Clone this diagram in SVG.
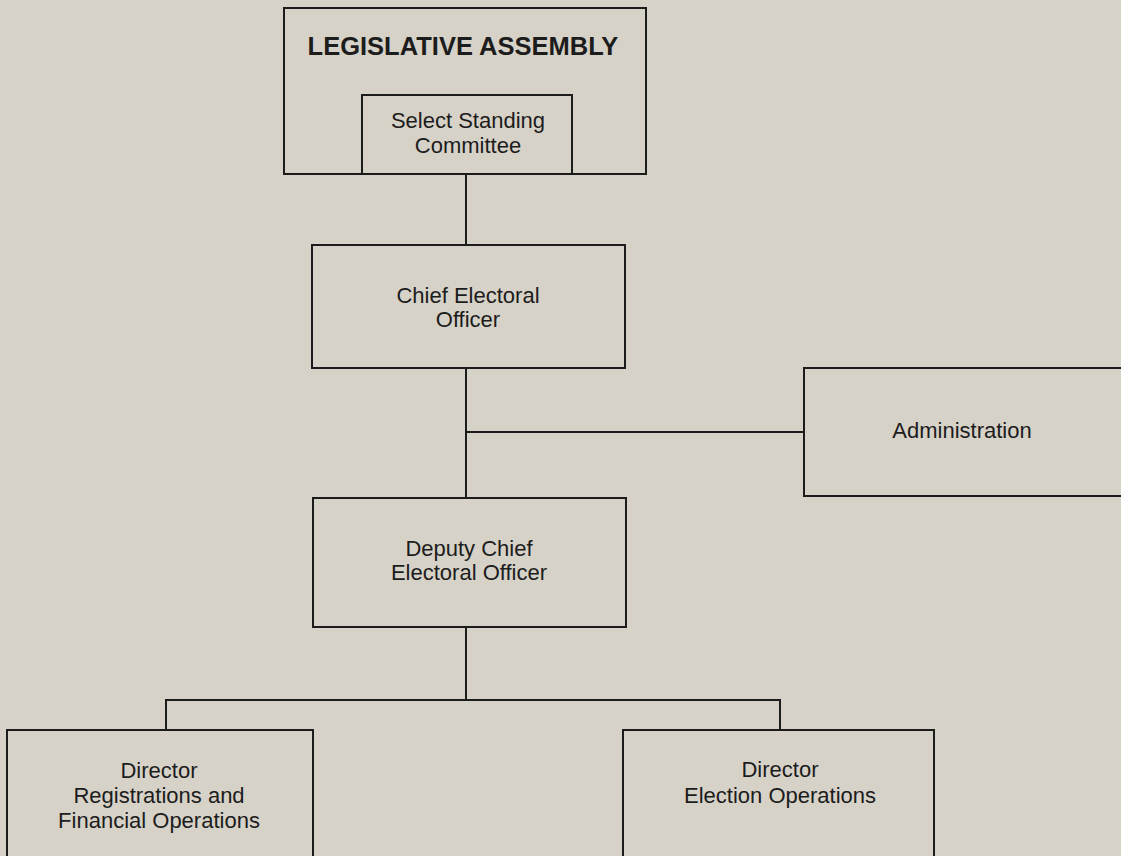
<svg xmlns="http://www.w3.org/2000/svg" width="1121" height="856" viewBox="0 0 1121 856">
<style>
.bg{fill:#d7d2c8}
.box{fill:none;stroke:#1c1c1c;stroke-width:2}
.ln{fill:none;stroke:#1c1c1c;stroke-width:2}
text{font-family:"Liberation Sans",Arial,sans-serif;font-size:22px;fill:#1c1c1c;text-anchor:middle}
.title{font-size:25.5px;font-weight:bold}
</style>
<rect class="bg" x="0" y="0" width="1121" height="856"/>
<g id="connectors">
<line class="ln" x1="466" y1="174" x2="466" y2="245"/>
<line class="ln" x1="466" y1="368" x2="466" y2="498"/>
<line class="ln" x1="466" y1="432" x2="804" y2="432"/>
<line class="ln" x1="466" y1="627" x2="466" y2="700"/>
<polyline class="ln" points="166,730 166,700 780,700 780,730"/>
</g>
<g id="legislative-assembly">
<rect class="box" x="284" y="8" width="362" height="166"/>
<text class="title" x="463" y="55">LEGISLATIVE ASSEMBLY</text>
</g>
<g id="select-standing-committee">
<rect class="box" x="362" y="95" width="210" height="79"/>
<text x="468" y="128">Select Standing</text>
<text x="468" y="153">Committee</text>
</g>
<g id="chief-electoral-officer">
<rect class="box" x="312" y="245" width="313" height="123"/>
<text x="468" y="303">Chief Electoral</text>
<text x="468" y="327">Officer</text>
</g>
<g id="administration">
<rect class="box" x="804" y="368" width="330" height="128"/>
<text x="962" y="438">Administration</text>
</g>
<g id="deputy-chief-electoral-officer">
<rect class="box" x="313" y="498" width="313" height="129"/>
<text x="469" y="556">Deputy Chief</text>
<text x="469" y="580">Electoral Officer</text>
</g>
<g id="director-registrations">
<rect class="box" x="7" y="730" width="306" height="140"/>
<text x="159" y="778">Director</text>
<text x="159" y="803">Registrations and</text>
<text x="159" y="828">Financial Operations</text>
</g>
<g id="director-election-operations">
<rect class="box" x="623" y="730" width="311" height="140"/>
<text x="780" y="777">Director</text>
<text x="780" y="803">Election Operations</text>
</g>
</svg>
